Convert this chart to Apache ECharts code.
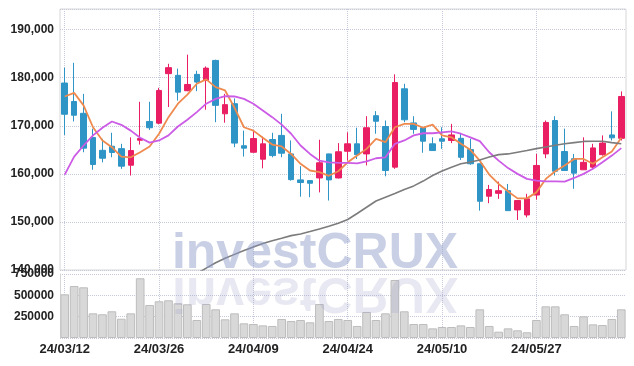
<!DOCTYPE html>
<html><head><meta charset="utf-8">
<script src="https://cdn.jsdelivr.net/npm/echarts@6/dist/echarts.min.js"></script>
<style>html,body{margin:0;padding:0;background:#fff}#c{width:634px;height:366px}</style>
</head><body><div id="c"></div>
<script>
const dates = ["24/03/12","24/03/13","24/03/14","24/03/15","24/03/18","24/03/19","24/03/20","24/03/21","24/03/22","24/03/25",
"24/03/26","24/03/27","24/03/28","24/03/29","24/04/01","24/04/02","24/04/03","24/04/04","24/04/05","24/04/08",
"24/04/09","24/04/11","24/04/12","24/04/15","24/04/16","24/04/17","24/04/18","24/04/19","24/04/22","24/04/23",
"24/04/24","24/04/25","24/04/26","24/04/29","24/04/30","24/05/02","24/05/03","24/05/07","24/05/08","24/05/09",
"24/05/10","24/05/13","24/05/14","24/05/16","24/05/17","24/05/20","24/05/21","24/05/22","24/05/23","24/05/24",
"24/05/27","24/05/28","24/05/29","24/05/30","24/05/31","24/06/03","24/06/04","24/06/05","24/06/07","24/06/10"];
const openP  = [178900,175050,172600,167550,164900,165750,165250,161800,167000,170900,
170550,180850,180500,177300,180700,179450,183600,172500,174600,165850,
164500,163050,167150,168000,164150,158750,158600,159150,164150,159150,
164700,166250,164150,172100,169850,161400,177700,170600,169600,166250,
167300,166950,167400,165050,162100,155350,155950,156500,152500,151450,
155600,164150,171100,164650,163150,160850,161400,164000,168100,167400];
const closeP = [172400,172200,165350,161950,163250,164450,161600,164850,167350,169600,
177350,182100,177000,178600,179100,182000,174250,174400,166400,165350,
167350,166250,163800,164300,158800,158200,158050,162300,158750,164600,
166250,164000,169600,170950,160700,179000,171250,169250,166800,164850,
166800,168100,163450,162100,154300,156750,156500,152350,154450,154800,
161750,170700,160550,160700,160150,162400,165400,166400,167500,176100];
const lowP   = [168100,170900,164500,160850,162400,163450,161050,159650,166100,169150,
170300,173900,175250,177200,177200,173350,170750,170650,165550,163600,
164400,161150,163450,163450,158600,155250,155150,156150,154450,159050,
162750,163100,161750,168350,159500,161050,170750,168350,164400,164800,
165200,166400,162900,161900,152350,153900,154800,152300,150400,150950,
154650,163250,159650,160600,156900,160800,161050,163800,166950,166950];
const highP  = [182100,183100,176650,169400,167300,168550,166250,167600,175000,175000,
177900,182900,181900,184800,181450,182350,183750,176650,175700,169000,
169000,167750,168550,172500,166950,161600,158650,167100,164200,166400,
168650,169600,172000,173050,171100,180700,178750,172000,169650,167600,
169700,170400,168350,167300,162150,157700,158400,157900,154500,155850,
164150,171100,172000,169400,164150,167600,166250,168000,173000,177150];
const ma5  = [176100,176850,174250,169700,166950,165550,163600,163450,164500,165700,
168350,171800,174600,176500,178750,179650,178050,177350,173750,169700,
169000,167500,166100,165700,164150,162100,160700,160350,159600,160550,
162400,163800,165200,167300,166600,169700,170400,170400,169600,170250,
168000,167600,166250,165000,162750,159850,157900,156350,154900,154900,
156150,158950,160550,161750,163100,163100,162100,163450,164650,167500];
const ma20 = [159850,163600,165900,168000,169600,170900,170200,169000,167500,166500,
166950,168000,169850,171250,172850,174600,175600,176150,176100,175600,
174600,173200,171800,170250,168350,165900,164150,162750,162400,162300,
162300,162200,162600,163250,163450,166250,166950,168000,168450,168450,
168650,168850,168350,167600,166800,164500,162750,161200,160000,158950,
158600,158450,158450,158400,159150,160000,161050,162400,163800,165350];
const ma60 = [null,null,null,null,null,null,null,null,null,null,
null,null,null,null,139250,140400,141500,142450,143250,144050,
144800,145500,146100,146600,147150,147500,148000,148550,149100,149750,
150500,151750,153050,154350,155150,155900,156750,157500,158500,159650,
160600,161400,162100,162450,162900,163500,164000,164150,164500,164850,
165250,165600,165950,166250,166500,166750,166800,166800,166500,166250];
const volume = [512000,609000,594000,289000,278000,313000,226000,289000,700000,387000,
430000,442000,407000,395000,211000,398000,336000,219000,289000,172000,
164000,148000,141000,223000,199000,211000,184000,398000,199000,223000,
211000,141000,305000,211000,289000,680000,313000,164000,164000,113000,
129000,129000,148000,129000,336000,141000,74000,113000,90000,67000,
211000,371000,371000,278000,141000,254000,160000,152000,223000,336000];
const priceTicks = [140000,150000,160000,170000,180000,190000];
const volumeTicks = [250000,500000,750000];

const RED = '#e91e63', BLUE = '#2e95c6';
const GRIDC = '#c6c8dc';
const candles = dates.map((d, i) => [openP[i], closeP[i], lowP[i], highP[i]]);
const fmt = v => String(v).replace(/\B(?=(\d{3})+(?!\d))/g, ',');
const lbl = {color:'#222', fontSize:12, fontWeight:'bold', fontFamily:'Liberation Sans', margin:6};

const chart = echarts.init(document.getElementById('c'), null, {renderer:'canvas'});
chart.setOption({
  animation:false,
  backgroundColor:'#fff',
  grid:[
    {left:60, right:8, top:9, height:261, show:true, borderColor:'#d6d6d6', borderWidth:1},
    {left:60, right:8, top:274, height:64}
  ],
  xAxis:[
    {type:'category', data:dates, gridIndex:0, boundaryGap:true,
     axisLine:{show:false}, axisTick:{show:false}, axisLabel:{show:false},
     splitLine:{show:true, interval:9, alignWithLabel:true, lineStyle:{type:'dotted', color:GRIDC}}},
    {type:'category', data:dates, gridIndex:1, boundaryGap:true,
     axisLine:{show:false}, axisTick:{show:false},
     axisLabel:{show:true, interval:9, margin:5, fontSize:13, fontWeight:'bold', color:'#222', fontFamily:'Liberation Sans'},
     splitLine:{show:true, interval:9, alignWithLabel:true, lineStyle:{type:'dotted', color:GRIDC}}}
  ],
  yAxis:[
    {type:'value', gridIndex:0, min:140000, max:194300, interval:10000,
     axisLine:{show:false}, axisTick:{show:false},
     axisLabel:Object.assign({}, lbl, {formatter:v => priceTicks.includes(v) ? fmt(v) : ''}),
     splitLine:{lineStyle:{type:'dotted', color:GRIDC}}},
    {type:'value', gridIndex:1, min:0, max:750000, interval:250000,
     axisLine:{show:true, lineStyle:{color:'#d6d6d6'}}, axisTick:{show:false},
     axisLabel:Object.assign({}, lbl, {formatter:v => volumeTicks.includes(v) ? String(v) : ''}),
     splitLine:{lineStyle:{type:'dotted', color:GRIDC}}}
  ],
  series:[
    {type:'candlestick', xAxisIndex:0, yAxisIndex:0, data:candles, barWidth:6,
     itemStyle:{color:RED, color0:BLUE, borderColor:RED, borderColor0:BLUE, borderWidth:1}},
    {type:'line', name:'MA5', xAxisIndex:0, yAxisIndex:0, data:ma5, symbol:'none',
     lineStyle:{color:'#ef8a4f', width:1.8}},
    {type:'line', name:'MA20', xAxisIndex:0, yAxisIndex:0, data:ma20, symbol:'none',
     lineStyle:{color:'#cc5be6', width:1.8}},
    {type:'line', name:'MA60', xAxisIndex:0, yAxisIndex:0, data:ma60, symbol:'none',
     lineStyle:{color:'#7c7c7c', width:1.6}},
    {type:'bar', name:'Volume', xAxisIndex:1, yAxisIndex:1, data:volume, barCategoryGap:'8%',
     itemStyle:{color:'#d8d8d8', borderColor:'#bdbdbd', borderWidth:1}}
  ],
  graphic:[
    {type:'text', x:315, y:254.7, z:100, silent:true,
     style:{text:'investCRUX', font:'bold 50px "Liberation Sans"', fill:'#8d9bc8', opacity:0.47,
            textAlign:'center', textVerticalAlign:'middle', verticalAlign:'middle'}},
    {type:'text', x:315, y:273, scaleY:-1, z:100, silent:true,
     style:{text:'investCRUX', x:0, y:-18.3, font:'bold 50px "Liberation Sans"', fill:'#9aa0c4', opacity:0.24,
            textAlign:'center', textVerticalAlign:'middle', verticalAlign:'middle'}}
  ]
});
</script></body></html>
